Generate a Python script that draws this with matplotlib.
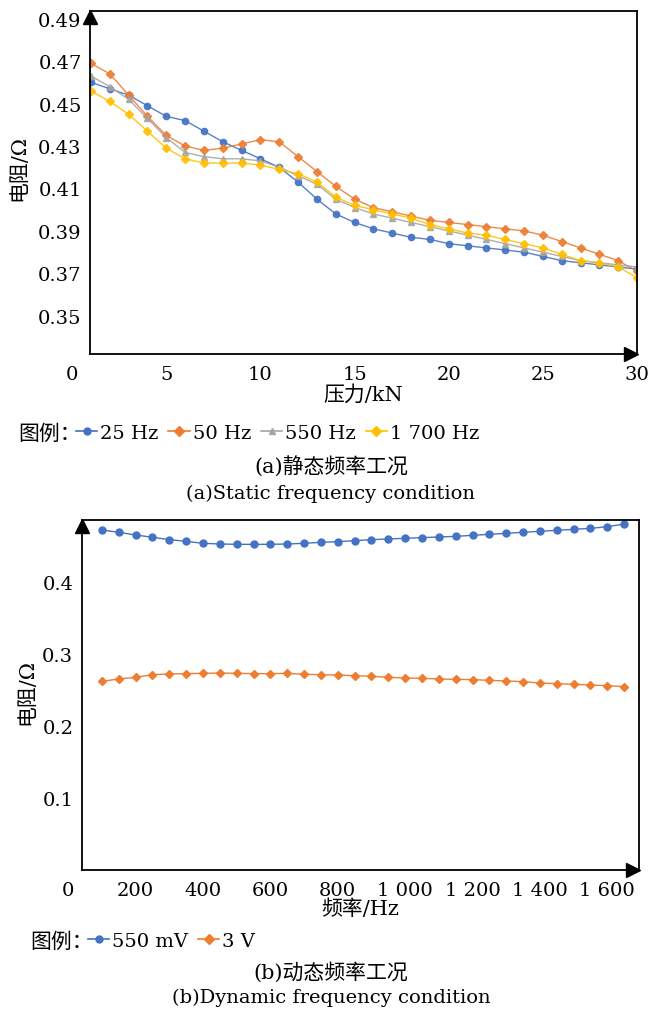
import matplotlib
matplotlib.use("Agg")
import matplotlib.pyplot as plt
from matplotlib.lines import Line2D
import matplotlib.transforms as mtransforms

plt.rcParams['font.family'] = ['DejaVu Serif', 'Noto Sans CJK SC']
plt.rcParams['axes.unicode_minus'] = False

# ---------------- data (a) static frequency ----------------
force_kN = list(range(1, 31))
r_25hz = [0.460, 0.457, 0.454, 0.449, 0.444, 0.442, 0.437, 0.432, 0.428, 0.424,
          0.420, 0.413, 0.405, 0.398, 0.394, 0.391, 0.389, 0.387, 0.386, 0.384,
          0.383, 0.382, 0.381, 0.380, 0.378, 0.376, 0.375, 0.374, 0.373, 0.372]
r_50hz = [0.469, 0.464, 0.454, 0.444, 0.435, 0.430, 0.428, 0.429, 0.431, 0.433,
          0.432, 0.425, 0.418, 0.411, 0.405, 0.401, 0.399, 0.397, 0.395, 0.394,
          0.393, 0.392, 0.391, 0.390, 0.388, 0.385, 0.382, 0.379, 0.376, 0.371]
r_550hz = [0.463, 0.458, 0.452, 0.443, 0.434, 0.427, 0.425, 0.424, 0.424, 0.423,
           0.420, 0.416, 0.412, 0.405, 0.401, 0.398, 0.396, 0.394, 0.392, 0.390,
           0.388, 0.386, 0.384, 0.382, 0.380, 0.378, 0.376, 0.375, 0.374, 0.373]
r_1700hz = [0.456, 0.451, 0.445, 0.437, 0.429, 0.424, 0.422, 0.422, 0.422, 0.421,
            0.419, 0.417, 0.413, 0.406, 0.402, 0.400, 0.398, 0.396, 0.393, 0.391,
            0.389, 0.388, 0.386, 0.384, 0.382, 0.379, 0.376, 0.375, 0.373, 0.368]
labels_a = ['25 Hz', '50 Hz', '550 Hz', '1 700 Hz']
xticks_a = [5, 10, 15, 20, 25, 30]
yticks_a = [0.35, 0.37, 0.39, 0.41, 0.43, 0.45, 0.47, 0.49]

# ---------------- data (b) dynamic frequency ----------------
freq_hz = list(range(100, 1651, 50))
r_550mv = [0.4718, 0.4686, 0.4649, 0.4617, 0.4584, 0.4561, 0.4533, 0.4524, 0.4519, 0.4519,
           0.4519, 0.4524, 0.4533, 0.4547, 0.4556, 0.4570, 0.4584, 0.4593, 0.4603, 0.4612,
           0.4621, 0.4630, 0.4644, 0.4658, 0.4672, 0.4686, 0.4700, 0.4714, 0.4727, 0.4741,
           0.4764, 0.4801]
r_3v = [0.2616, 0.2649, 0.2672, 0.2709, 0.2718, 0.2723, 0.2727, 0.2732, 0.2727, 0.2723,
        0.2723, 0.2727, 0.2714, 0.2709, 0.2704, 0.2695, 0.2686, 0.2672, 0.2663, 0.2658,
        0.2649, 0.2644, 0.2640, 0.2630, 0.2621, 0.2612, 0.2593, 0.2584, 0.2575, 0.2565,
        0.2556, 0.2542]
labels_b = ['550 mV', '3 V']
xticks_b = [200, 400, 600, 800, 1000, 1200, 1400, 1600]
xticklabels_b = ['200', '400', '600', '800', '1 000', '1 200', '1 400', '1 600']
yticks_b = [0.1, 0.2, 0.3, 0.4]

BLUE = '#4472C4'
ORANGE = '#ED7D31'
GRAY = '#A5A5A5'
YELLOW = '#FFC000'

W, H = 662, 1012
fig = plt.figure(figsize=(W / 100, H / 100), dpi=100)

FS = 14
FS_CJK = 15


def frame(ax):
    for s in ax.spines.values():
        s.set_linewidth(1.3)
        s.set_color('black')
    ax.tick_params(length=0, labelsize=FS)
    ax.tick_params(axis='x', pad=8)
    ax.tick_params(axis='y', pad=6)
    up = mtransforms.offset_copy(ax.transAxes, fig=fig, x=0, y=-6, units='dots')
    ax.plot([0], [1], marker='^', ms=10, color='black', transform=up, clip_on=False, zorder=5)
    rt = mtransforms.offset_copy(ax.transAxes, fig=fig, x=-6, y=0, units='dots')
    ax.plot([1], [0], marker='>', ms=10, color='black', transform=rt, clip_on=False, zorder=5)


def zero_label(ax):
    tr = mtransforms.offset_copy(ax.get_xaxis_transform(), fig=fig, x=0, y=-8, units='points')
    ax.text(0, 0, '0', transform=tr, ha='center', va='top', fontsize=FS)


# ================= (a) =================
ax1 = fig.add_axes([90 / W, 1 - 355 / H, (637 - 90) / W, (355 - 12.3) / H])
series_a = [(r_25hz, BLUE, 'o'), (r_50hz, ORANGE, 'D'), (r_550hz, GRAY, '^'), (r_1700hz, YELLOW, 'D')]
for (vals, col, mk), lab in zip(series_a, labels_a):
    ax1.plot(force_kN, vals, color=col, lw=1.0, marker=mk, ms=4.5, mec=col, mfc=col,
             alpha=0.9, label=lab)
ax1.set_xlim(0.95, 30)
ax1.set_ylim(0.332, 0.4935)
ax1.set_xticks(xticks_a)
ax1.set_yticks(yticks_a)
ax1.set_yticklabels([f'{v:.2f}' for v in yticks_a])
frame(ax1)
zero_label(ax1)
ax1.set_xlabel('压力/kN', fontsize=FS_CJK, labelpad=1)
fig.text(19 / W, 1 - 168 / H, '电阻/Ω', rotation=90, ha='center', va='center', fontsize=FS_CJK)

# legend (a)
fig.text(18 / W, 1 - 434 / H, '图例：', ha='left', va='center', fontsize=FS_CJK)
handles_a = [Line2D([], [], color=c, marker=m, ms=5, lw=1.2) for (_, c, m) in series_a]
fig.legend(handles_a, labels_a, loc='center left', bbox_to_anchor=(76 / W, 1 - 434 / H),
           ncol=4, frameon=False, fontsize=FS, handlelength=1.1, handletextpad=0.15,
           columnspacing=0.5, borderpad=0, borderaxespad=0)
fig.text(331 / W, 1 - 467 / H, '(a)静态频率工况', ha='center', va='center', fontsize=FS_CJK)
fig.text(331 / W, 1 - 494 / H, '(a)Static frequency condition', ha='center', va='center',
         fontsize=FS)

# ================= (b) =================
ax2 = fig.add_axes([81.7 / W, 1 - 870.7 / H, (639 - 81.7) / W, (870.7 - 521) / H])
ax2.plot(freq_hz, r_550mv, color=BLUE, lw=1.0, marker='o', ms=5, label=labels_b[0])
ax2.plot(freq_hz, r_3v, color=ORANGE, lw=1.0, marker='D', ms=4.2, label=labels_b[1])
ax2.set_xlim(40, 1694)
ax2.set_ylim(0, 0.4857)
ax2.set_xticks(xticks_b)
ax2.set_xticklabels(xticklabels_b)
ax2.set_yticks(yticks_b)
ax2.set_yticklabels(['0.1', '0.2', '0.3', '0.4'])
frame(ax2)
zero_label(ax2)
ax2.set_xlabel('频率/Hz', fontsize=FS_CJK, labelpad=0)
fig.text(27 / W, 1 - 692 / H, '电阻/Ω', rotation=90, ha='center', va='center', fontsize=FS_CJK)

fig.text(30 / W, 1 - 942 / H, '图例：', ha='left', va='center', fontsize=FS_CJK)
handles_b = [Line2D([], [], color=BLUE, marker='o', ms=5, lw=1.2),
             Line2D([], [], color=ORANGE, marker='D', ms=5, lw=1.2)]
fig.legend(handles_b, labels_b, loc='center left', bbox_to_anchor=(88 / W, 1 - 942 / H),
           ncol=2, frameon=False, fontsize=FS, handlelength=1.1, handletextpad=0.15,
           columnspacing=0.5, borderpad=0, borderaxespad=0)
fig.text(331 / W, 1 - 972 / H, '(b)动态频率工况', ha='center', va='center', fontsize=FS_CJK)
fig.text(331 / W, 1 - 998 / H, '(b)Dynamic frequency condition', ha='center', va='center',
         fontsize=FS)

fig.savefig('out.png', dpi=100)
